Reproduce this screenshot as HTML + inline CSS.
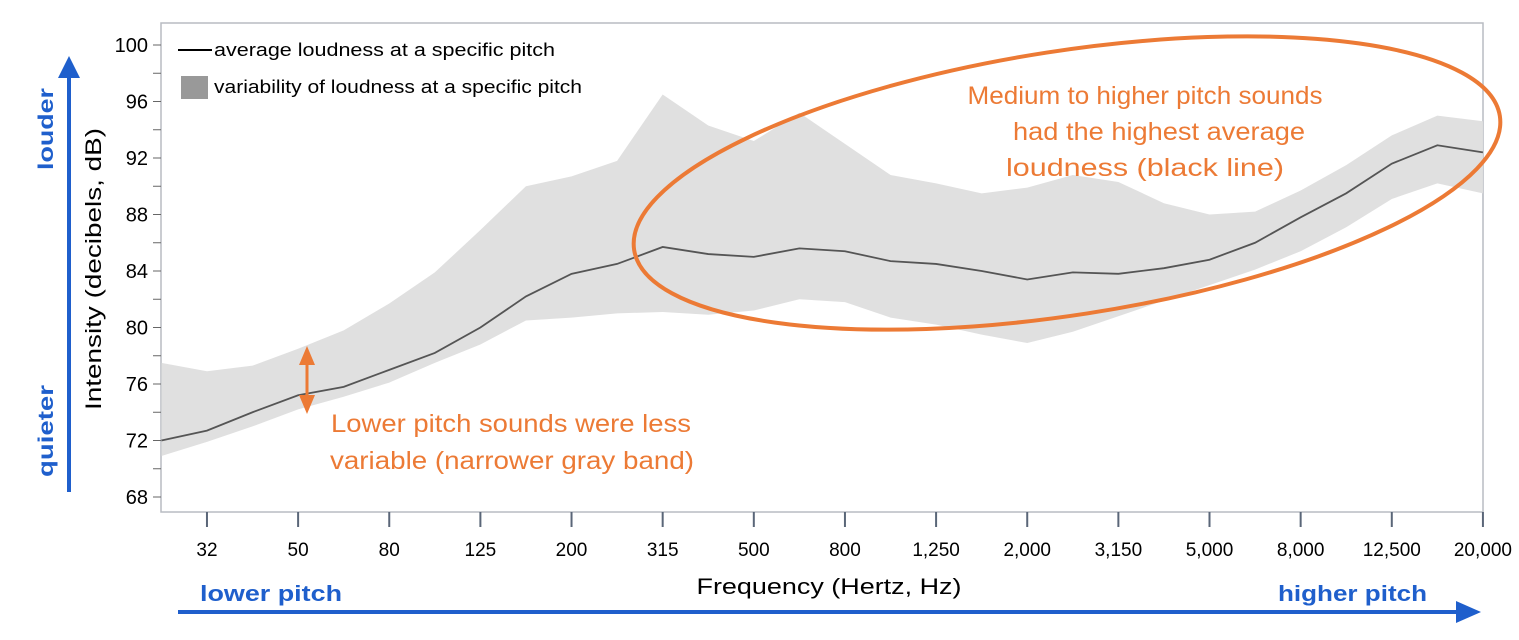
<!DOCTYPE html>
<html><head><meta charset="utf-8"><style>
body{margin:0;background:#fff;}
svg{display:block;font-family:"Liberation Sans",sans-serif;}
</style></head><body>
<svg id="chart" width="1519" height="640" viewBox="0 0 1519 640">
<rect x="161" y="23" width="1322" height="489" fill="none" stroke="#b8bcc2" stroke-width="1.5"/>
<g id="band"></g>
<g id="yaxis"></g>
<g id="xaxis"></g>
<g id="line"></g>
<g>
<line x1="178" y1="50" x2="212" y2="50" stroke="#000" stroke-width="2"/>
<text x="214" y="56" font-size="18" textLength="341" lengthAdjust="spacingAndGlyphs">average loudness at a specific pitch</text>
<rect x="181" y="76" width="27" height="23" fill="#999"/>
<text x="214" y="93" font-size="18" textLength="368" lengthAdjust="spacingAndGlyphs">variability of loudness at a specific pitch</text>
</g>
<text transform="translate(101,269) rotate(-90)" text-anchor="middle" font-size="22" textLength="282" lengthAdjust="spacingAndGlyphs">Intensity  (decibels, dB)</text>
<text x="829" y="594" text-anchor="middle" font-size="22" textLength="265" lengthAdjust="spacingAndGlyphs">Frequency (Hertz, Hz)</text>
<g>
<line x1="69" y1="492" x2="69" y2="75" stroke="#1f5fcc" stroke-width="4"/>
<polygon points="58,78 80,78 69,56" fill="#1f5fcc"/>
</g>
<text transform="translate(53,129) rotate(-90)" text-anchor="middle" font-size="21" font-weight="bold" fill="#1f5fcc" textLength="82" lengthAdjust="spacingAndGlyphs">louder</text>
<text transform="translate(53,431) rotate(-90)" text-anchor="middle" font-size="21" font-weight="bold" fill="#1f5fcc" textLength="92" lengthAdjust="spacingAndGlyphs">quieter</text>
<g>
<line x1="178" y1="612" x2="1460" y2="612" stroke="#1f5fcc" stroke-width="4"/>
<polygon points="1456,601 1456,623 1481,612" fill="#1f5fcc"/>
</g>
<text x="200" y="601" font-size="22" font-weight="bold" fill="#1f5fcc" textLength="142" lengthAdjust="spacingAndGlyphs">lower pitch</text>
<text x="1278" y="601" font-size="22" font-weight="bold" fill="#1f5fcc" textLength="149" lengthAdjust="spacingAndGlyphs">higher pitch</text>
<ellipse cx="1067" cy="183" rx="438" ry="132" transform="rotate(-8.8 1067 183)" fill="none" stroke="#ec7a35" stroke-width="4"/>
<g fill="#ec7a35" font-size="25" text-anchor="middle">
<text x="1145" y="104" textLength="355" lengthAdjust="spacingAndGlyphs">Medium to higher pitch sounds</text>
<text x="1159" y="140" textLength="292" lengthAdjust="spacingAndGlyphs">had the highest average</text>
<text x="1145" y="176" textLength="278" lengthAdjust="spacingAndGlyphs">loudness (black line)</text>
</g>
<g fill="#ec7a35" font-size="25" text-anchor="middle">
<text x="511" y="432" textLength="360" lengthAdjust="spacingAndGlyphs">Lower pitch sounds were less</text>
<text x="512" y="469" textLength="364" lengthAdjust="spacingAndGlyphs">variable (narrower gray band)</text>
</g>
<g>
<line x1="307" y1="362" x2="307" y2="398" stroke="#ec7a35" stroke-width="3"/>
<polygon points="299,365 315,365 307,346" fill="#ec7a35"/>
<polygon points="299,395 315,395 307,414" fill="#ec7a35"/>
</g>
</svg>
<script>
const meanDb=[72.0,72.7,74.0,75.2,75.8,77.0,78.2,80.0,82.2,83.8,84.5,85.7,85.2,85.0,85.6,85.4,84.7,84.5,84.0,83.4,83.9,83.8,84.2,84.8,86.0,87.8,89.5,91.6,92.9,92.4];
const upperDb=[77.5,76.9,77.3,78.5,79.8,81.7,83.9,86.9,90.0,90.7,91.8,96.5,94.3,93.2,95.2,93.0,90.8,90.2,89.5,89.9,90.8,90.3,88.8,88.0,88.2,89.7,91.5,93.6,95.0,94.6];
const lowerDb=[70.9,71.9,73.0,74.2,75.1,76.1,77.5,78.8,80.5,80.7,81.0,81.1,80.9,81.2,82.0,81.8,80.7,80.2,79.5,78.9,79.7,80.8,81.9,83.0,84.1,85.4,87.1,89.1,90.2,89.5];
const xTickLabels=["32","50","80","125","200","315","500","800","1,250","2,000","3,150","5,000","8,000","12,500","20,000"];
const yTicks=[68,72,76,80,84,88,92,96,100];
const NS="http://www.w3.org/2000/svg";
function X(i){return 161.4+i*45.57;}
function Y(v){return 497+(68-v)*(452/32);}
function mk(tag,attrs,parent){const e=document.createElementNS(NS,tag);for(const k in attrs)e.setAttribute(k,attrs[k]);parent.appendChild(e);return e;}
const band=document.getElementById('band');
let d=upperDb.map((v,i)=>(i?'L':'M')+X(i)+','+Y(v)).join(' ');
for(let i=lowerDb.length-1;i>=0;i--)d+=' L'+X(i)+','+Y(lowerDb[i]);
const bp=mk('path',{d:d+' Z',fill:'#e0e0e0'},band);


const lg=document.getElementById('line');
const lp=mk('path',{d:meanDb.map((v,i)=>(i?'L':'M')+X(i)+','+Y(v)).join(' '),fill:'none',stroke:'#555',"stroke-width":1.8},lg);


const ya=document.getElementById('yaxis');
for(let v=68;v<=100;v+=2){mk('line',{x1:153,x2:161,y1:Y(v),y2:Y(v),stroke:'#666',"stroke-width":1},ya);}
yTicks.forEach(v=>{const t=mk('text',{x:148,y:Y(v)+7,"text-anchor":"end","font-size":20},ya);t.textContent=v;

});
const xa=document.getElementById('xaxis');
xTickLabels.forEach((s,k)=>{const i=1+2*k;const x=X(i);
mk('line',{x1:x,x2:x,y1:512,y2:527,stroke:'#5a6678',"stroke-width":2},xa);
const t=mk('text',{x:x,y:556,"text-anchor":"middle","font-size":19},xa);t.textContent=s;

});
</script>
</body></html>
